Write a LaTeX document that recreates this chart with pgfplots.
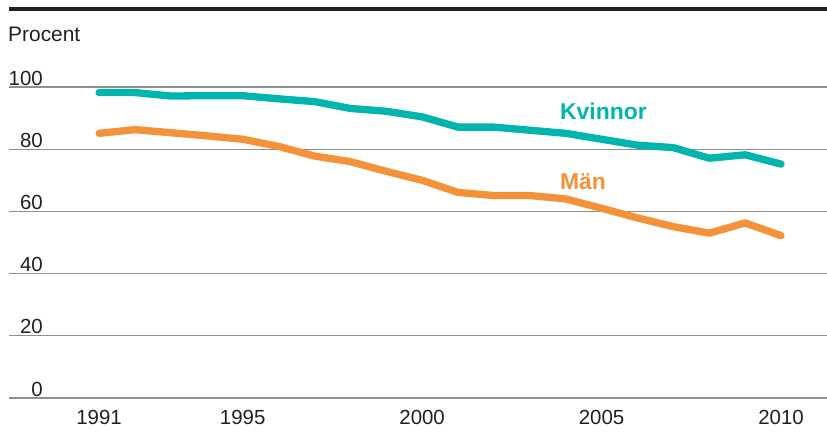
\documentclass[border=0pt]{standalone}
\usepackage{pgfplots}
\pgfplotsset{compat=1.18}
\usepackage{fontspec}
\setmainfont{Liberation Sans}
\definecolor{teal1}{HTML}{00B5AD}
\definecolor{orange1}{HTML}{F59138}
\definecolor{txt}{HTML}{231F20}
\definecolor{gridc}{HTML}{8F8F8F}
\begin{document}
\begin{tikzpicture}
\begin{axis}[
  scale only axis,
  width=818bp, height=311bp,
  xmin=1988.49, xmax=2011.28,
  ymin=0, ymax=100,
  axis line style={draw=none},
  clip=false,
  ytick={0,20,40,60,80,100},
  xtick={1991,1995,2000,2005,2010},
  major tick length=0pt,
  tick style={draw=none},
  /pgf/number format/assume math mode=true,
  /pgf/number format/1000 sep={},
  ymajorgrids,
  grid style={gridc, line width=1.1bp},
  ticklabel style={font=\fontsize{20.5}{24}\selectfont, text=txt, inner sep=0pt},
  yticklabel style={anchor=south east, xshift=34bp, yshift=1.5bp},
  xticklabel style={anchor=north, yshift=-12bp},
]
\addplot[teal1, line width=7.3bp, line cap=round, line join=round] coordinates {
(1991,98.2) (1992,98.2) (1993,97.1) (1994,97.2) (1995,97.2) (1996,96.2)
(1997,95.3) (1998,93.1) (1999,92.2) (2000,90.4) (2001,87.1) (2002,87.1)
(2003,86.1) (2004,85.1) (2005,83.2) (2006,81.3) (2007,80.5) (2008,77.1)
(2009,78.2) (2010,75.2)
};
\addplot[orange1, line width=7.3bp, line cap=round, line join=round] coordinates {
(1991,85.1) (1992,86.3) (1993,85.3) (1994,84.3) (1995,83.2) (1996,80.9)
(1997,77.8) (1998,76.0) (1999,72.9) (2000,70.0) (2001,66.1) (2002,65.1)
(2003,65.1) (2004,64.0) (2005,61.0) (2006,57.9) (2007,55.1) (2008,53.0)
(2009,56.3) (2010,52.2)
};
\node[anchor=base west, inner sep=0pt, text=teal1, font=\fontsize{23}{27}\selectfont\bfseries] at (axis cs:2003.84,89.4) {Kvinnor};
\node[anchor=base west, inner sep=0pt, text=orange1, font=\fontsize{23}{27}\selectfont\bfseries] at (axis cs:2003.84,66.9) {Män};
\node[anchor=base west, inner sep=0pt, text=txt, font=\fontsize{21}{24}\selectfont] at ([xshift=-1bp,yshift=45bp]axis description cs:0,1) {Procent};
\draw[txt, line width=4.5bp] ([yshift=389bp]axis description cs:0,0) -- ([yshift=389bp]axis description cs:1,0);
\end{axis}
\pgfresetboundingbox
\path[use as bounding box] (-9bp,-37bp) rectangle (818bp,398bp);
\end{tikzpicture}
\end{document}
